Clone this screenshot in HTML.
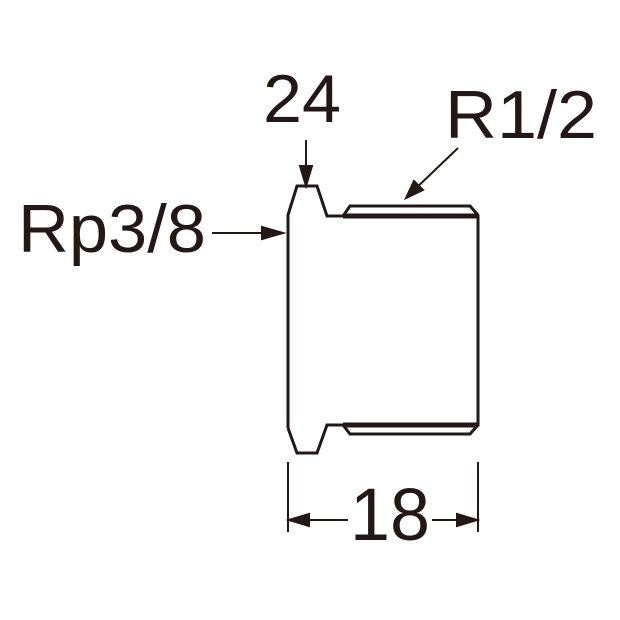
<!DOCTYPE html>
<html><head><style>body{margin:0;background:#fff}svg{display:block}</style></head><body>
<svg width="620" height="620" viewBox="0 0 620 620" xmlns="http://www.w3.org/2000/svg">
<g fill="none" stroke="#231815" stroke-width="3" stroke-linejoin="miter">
<path d="M288,428 L288,215 L297,186 L317,186 L327,216 L343,216 L478,216 L478,425 L343,425 L327,425 L317,453 L297,453 L288,428"/>
<path d="M343,216 L350,206 L470,206 L478,215"/>
<path d="M343,425 L350,434 L470,434 L478,425"/>
<line x1="343" y1="216" x2="478" y2="216" stroke-width="5"/>
<line x1="343" y1="425" x2="478" y2="425" stroke-width="5"/>
</g>
<g stroke="#231815" stroke-width="2">
<line x1="306" y1="140" x2="306" y2="184"/><path d="M300,166 L306,186 L312,166Z" fill="#231815"/>
<line x1="458" y1="148" x2="412" y2="192"/><path d="M406,198 L414,181 L423,190Z" fill="#231815"/>
<line x1="212" y1="233" x2="270" y2="233"/><path d="M262,227 L283,233 L262,239Z" fill="#231815"/>
<line x1="288" y1="462" x2="288" y2="532"/><line x1="478" y1="462" x2="478" y2="532"/>
<line x1="300" y1="520" x2="348" y2="520"/><line x1="432" y1="520" x2="466" y2="520"/>
<path d="M289,520 L309,514 L309,526Z" fill="#231815"/><path d="M477,520 L457,514 L457,526Z" fill="#231815"/>
</g>
<g font-family="Liberation Sans, sans-serif" fill="#231815">
<text x="263" y="122" font-size="68" textLength="78" lengthAdjust="spacingAndGlyphs">24</text>
<text x="445" y="138" font-size="68" textLength="152" lengthAdjust="spacingAndGlyphs">R1/2</text>
<text x="18" y="252" font-size="68" textLength="188" lengthAdjust="spacingAndGlyphs">Rp3/8</text>
<text x="350" y="540" font-size="74" textLength="80" lengthAdjust="spacingAndGlyphs">18</text>
</g>
</svg>
</body></html>
